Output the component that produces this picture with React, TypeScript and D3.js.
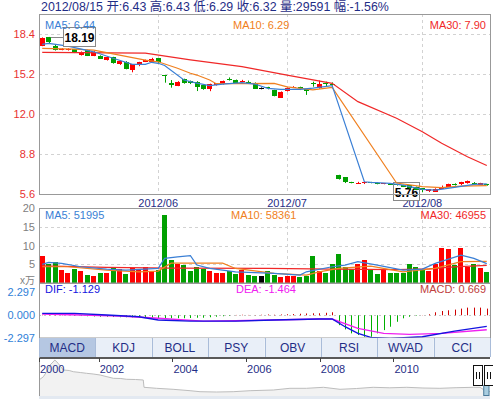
import * as d3 from "d3";

const FONT = "'Liberation Sans', Arial, 'Noto Sans CJK SC', sans-serif";

// daily K line, May - 2012/08/15
const candleOpen = [
  17.5, 18.15, 17.5, 17.2, 17.2, 17.2, 16.74, 17.14, 16.69, 16.69,
  16.34, 16.58, 16.0, 16.21, 15.54, 15.89, 16.21, 16.16, 16.48, 15.12,
  14.53, 14.29, 14.8, 14.66, 14.61, 14.34, 14.0, 14.34, 14.4, 14.8,
  14.74, 14.61, 14.6, 14.53, 14.08, 14.15, 13.94, 13.36, 13.86, 14.14,
  14.2, 14.0, 14.5, 14.08, 14.5, 14.45, 7.14, 6.96, 6.55, 6.52,
  6.5, 6.55, 6.53, 6.45, 6.45, 6.42, 6.34, 6.32, 6.2, 6.08,
  5.81, 5.85, 6.1, 6.22, 6.42, 6.36, 6.48, 6.52, 6.38, 6.43,
];
const candleHigh = [
  18.15, 18.19, 17.55, 17.3, 17.28, 17.22, 17.03, 17.16, 17.05, 16.72,
  16.62, 16.6, 16.28, 16.25, 16.02, 16.2, 16.38, 16.52, 16.5, 15.14,
  14.74, 14.65, 14.85, 14.7, 14.65, 14.36, 14.45, 14.5, 14.7, 14.95,
  14.78, 14.76, 14.7, 14.55, 14.15, 14.2, 13.96, 13.83, 14.15, 14.25,
  14.21, 14.02, 14.61, 14.7, 14.61, 14.55, 7.16, 6.98, 6.6, 6.6,
  6.61, 6.6, 6.55, 6.5, 6.47, 6.44, 6.36, 6.34, 6.22, 6.1,
  6.02, 6.08, 6.3, 6.45, 6.48, 6.6, 6.7, 6.58, 6.52, 6.43,
];
const candleLow = [
  17.45, 17.7, 17.1, 17.12, 17.1, 16.9, 16.7, 16.66, 16.65, 16.45,
  16.3, 16.05, 15.95, 15.6, 15.36, 15.85, 16.18, 16.12, 16.12, 14.53,
  14.13, 14.25, 14.45, 14.42, 13.86, 13.96, 13.85, 14.3, 14.38, 14.7,
  14.45, 14.58, 14.42, 14.05, 14.0, 14.0, 13.44, 13.34, 13.82, 14.1,
  13.94, 13.55, 14.21, 14.05, 14.21, 14.3, 6.78, 6.5, 6.48, 6.48,
  6.42, 6.48, 6.4, 6.4, 6.36, 6.3, 6.18, 6.05, 5.95, 5.76,
  5.78, 5.82, 6.05, 6.2, 6.3, 6.33, 6.45, 6.45, 6.35, 6.29,
];
const candleClose = [
  18.12, 17.76, 17.15, 17.23, 17.22, 16.93, 17.01, 16.69, 17.01, 16.48,
  16.58, 16.08, 16.26, 15.62, 16.0, 16.16, 16.34, 16.42, 16.16, 15.08,
  14.34, 14.61, 14.48, 14.48, 14.21, 14.0, 14.4, 14.48, 14.66, 14.74,
  14.48, 14.68, 14.55, 14.08, 14.08, 14.1, 13.46, 13.81, 14.13, 14.18,
  14.15, 13.81, 14.45, 14.42, 14.45, 14.42, 6.8, 6.53, 6.53, 6.54,
  6.58, 6.52, 6.42, 6.48, 6.4, 6.32, 6.2, 6.08, 6.0, 5.89,
  6.0, 6.05, 6.22, 6.42, 6.36, 6.55, 6.68, 6.5, 6.5, 6.32,
];
// volume, x万
const volumeWan = [
  7.3, 5.0, 5.5, 3.5, 2.7, 3.7, 3.3, 2.1, 1.9, 2.6,
  2.6, 4.4, 3.8, 2.4, 3.9, 3.4, 4.3, 3.2, 3.4, 18.1,
  6.1, 5.0, 4.8, 3.2, 4.3, 3.7, 3.2, 2.8, 2.8, 3.2,
  2.5, 3.4, 2.1, 2.0, 2.0, 3.2, 2.1, 1.7, 2.0, 2.0,
  1.7, 2.0, 7.3, 3.2, 2.6, 5.0, 7.7, 4.4, 3.7, 5.2,
  6.1, 3.7, 2.4, 3.5, 2.8, 2.8, 2.8, 5.0, 4.4, 3.4,
  3.2, 5.0, 9.4, 9.1, 4.8, 9.4, 4.4, 5.0, 3.9, 2.96,
];
const macdHist = [
  0.05, 0.05, 0.04, 0.03, 0.01,
  -0.05, -0.08, -0.1, -0.12, -0.15, -0.15, -0.18, -0.2, -0.2, -0.22,
  -0.25, -0.25, -0.25, -0.28, -0.3, -0.3, -0.3, -0.3, -0.28, -0.25,
  -0.25, -0.2, -0.15, -0.1, -0.05,
  0.03, 0.05, 0.03, 0.02, 0.05, 0.08, 0.05, 0.08, 0.1, 0.12,
  0.15, 0.18, 0.2, 0.2, 0.25, 0.3,
  -1.0, -1.43, -1.83, -2.0, -2.17, -2.17, -1.83, -1.5, -1.16, -0.66,
  -0.31, -0.15, -0.05, 0.02, 0.1,
  0.3, 0.43, 0.5, 0.57, 0.67, 0.77, 0.77, 0.77, 0.67,
];

// moving averages as [day index, value]
const priceMa5: [number, number][] = [
  [0, 17.6], [1, 17.68], [4, 17.46], [8, 17.0], [11, 16.48], [14, 16.0], [16, 16.0],
  [17, 16.16], [18, 16.08], [19, 15.9], [22, 14.74], [24, 14.5], [26, 14.3], [28, 14.42],
  [31, 14.53], [33, 14.42], [35, 14.08], [37, 14.0], [40, 14.0], [42, 14.1], [45, 14.3],
  [50, 6.6], [51, 6.56], [54, 6.48], [56, 6.34], [59, 6.0], [61, 5.94], [64, 6.16],
  [67, 6.4], [69, 6.44],
];
const priceMa10: [number, number][] = [
  [0, 17.28], [5, 17.22], [8, 17.14], [12, 16.74], [16, 16.34], [18, 16.2], [21, 15.68],
  [23, 15.28], [24, 15.14], [26, 14.74], [27, 14.45], [30, 14.45], [36, 14.48],
  [38, 14.2], [42, 13.95], [45, 14.15], [55, 6.5], [59, 6.21], [62, 6.13], [65, 6.26],
  [69, 6.29],
];
const priceMa30: [number, number][] = [
  [0, 16.95], [16, 16.9], [23, 16.35], [31, 15.81], [38, 15.14], [45, 14.48],
  [49, 13.01], [55, 11.68], [59, 10.61], [62, 9.68], [66, 8.61], [69, 7.9],
];
const volMa5: [number, number][] = [
  [0, 5.0], [1, 5.5], [3, 5.25], [6, 4.35], [10, 3.73], [13, 3.47], [16, 3.73], [18, 3.9],
  [19, 6.6], [21, 7.0], [23, 7.3], [24, 4.8], [26, 3.9], [30, 3.0], [36, 2.6], [40, 2.13],
  [41, 3.0], [45, 4.35], [47, 4.8], [49, 5.7], [52, 4.8], [56, 3.47], [59, 3.73],
  [61, 5.25], [65, 7.47], [67, 6.6], [69, 5.2],
];
const volMa10: [number, number][] = [
  [0, 4.35], [4, 4.35], [10, 3.47], [15, 3.0], [18, 3.2], [20, 5.3], [28, 5.3], [30, 3.9],
  [36, 2.6], [41, 2.13], [43, 3.0], [46, 3.9], [51, 4.5], [56, 3.0], [61, 3.9], [65, 5.7],
  [69, 5.8],
];
const volMa30: [number, number][] = [
  [0, 4.6], [10, 4.2], [20, 4.0], [35, 3.9], [45, 3.7], [55, 3.6], [60, 3.8], [64, 4.3],
  [69, 4.7],
];
const macdDif: [number, number][] = [
  [0, 0.19], [5, 0.19], [10, 0.02], [15, -0.15], [18, -0.48], [23, -0.59], [30, -0.59],
  [36, -0.48], [43, -0.38], [45, -0.38], [47, -1.16], [49, -1.83], [51, -2.23],
  [54, -2.33], [59, -2.17], [64, -1.6], [69, -1.129],
];
const macdDea: [number, number][] = [
  [0, 0.12], [12, -0.08], [18, -0.31], [25, -0.59], [30, -0.56], [43, -0.38], [45, -0.38],
  [49, -1.32], [53, -1.83], [57, -1.93], [62, -1.83], [69, -1.464],
];

const headerText = "2012/08/15 开:6.43 高:6.43 低:6.29 收:6.32 量:29591 幅:-1.56%";
const priceLegend = ["MA5: 6.44", "MA10: 6.29", "MA30: 7.90"];
const volumeLegend = ["MA5: 51995", "MA10: 58361", "MA30: 46955"];
const macdLegend = ["DIF: -1.129", "DEA: -1.464", "MACD: 0.669"];
const monthLabels = ["2012/06", "2012/07", "2012/08"];
const monthStartIndex = [18, 38, 59];
const priceTicks = [18.4, 15.2, 12.0, 8.8, 5.6];
const volumeTicks = [20, 15, 10, 5];
const macdTicks = [2.297, 0, -2.297];
const tabNames = ["MACD", "KDJ", "BOLL", "PSY", "OBV", "RSI", "WVAD", "CCI"];
const yearTicks = [2000, 2002, 2004, 2006, 2008, 2010];
const overviewHistory: [number, number][] = [
  [2000.38, 17], [2000.5, 20.3], [2000.6, 26], [2000.68, 32], [2000.76, 35], [2000.81, 37],
  [2000.9, 33.7], [2001.04, 27], [2001.2, 26.5], [2001.31, 25.3], [2001.5, 24.5],
  [2001.67, 23.7], [2001.85, 23], [2002.04, 22], [2002.2, 20.5], [2002.4, 18.7],
  [2002.6, 18.5], [2002.76, 17.7], [2003.0, 17.5], [2003.21, 17], [2003.23, 9.7],
  [2003.57, 8.7], [2004.02, 7.7], [2004.48, 6.3], [2004.75, 5.3], [2005.2, 5.0],
  [2005.65, 5.3], [2006.11, 6.3], [2006.74, 7], [2007.19, 8.7], [2007.64, 8.7],
  [2008.1, 9.7], [2008.55, 7.7], [2009.0, 8.5], [2009.45, 9.7], [2009.9, 9.2],
  [2010.36, 9.7], [2010.8, 9.0], [2011.26, 8.7], [2011.7, 9.3], [2012.17, 9.7],
  [2012.35, 9.7], [2012.53, 5.3], [2012.62, 5.5],
];

const RED = "#ff0000";
const GREEN = "#00a000";
const MA5C = "#3a7fd5";
const MA10C = "#f08020";
const MA30C = "#f02828";
const GRID = "#d2d2d2";
const FRAME = "#999999";
const NAVY = "#1f2d86";

export default function App() {
  const left = 39, right = 490;
  const idx = d3.range(candleOpen.length);
  const x = d3.scaleBand<number>().domain(idx).range([left, right]);
  const cx = (i: number) => x(i)! + x.bandwidth() / 2;
  const bodyW = x.bandwidth() * 0.72;
  const volW = x.bandwidth() * 0.78;

  const y = d3.scaleLinear().domain([5.6, 18.4]).range([194.3, 34.3]);
  const yVol = d3.scaleLinear().domain([0, 20]).range([283, 208.3]);
  const yMacd = d3.scaleLinear().domain([-2.297, 2.297]).range([338, 292.5]);
  const xOver = d3.scaleLinear().domain([2000.38, 2012.62]).range([left, right]).clamp(true);
  const yOver = d3.scaleLinear().domain([0, 40]).range([397, 357]);
  const xTab = d3.scaleBand<string>().domain(tabNames).range([left, right]);

  const colorOf = (i: number) =>
    candleClose[i] > candleOpen[i] ? RED : candleClose[i] < candleOpen[i] ? GREEN : "#000000";

  const priceLine = d3.line<[number, number]>().x(d => cx(d[0])).y(d => y(d[1]));
  const volLine = d3.line<[number, number]>().x(d => cx(d[0])).y(d => yVol(d[1]));
  const macdLine = d3.line<[number, number]>().x(d => cx(d[0])).y(d => yMacd(d[1]));
  const overArea = d3.area<[number, number]>().x(d => xOver(d[0])).y0(yOver(0)).y1(d => yOver(d[1]));
  const overLine = d3.line<[number, number]>().x(d => xOver(d[0])).y(d => yOver(d[1]));

  const hiIdx = d3.maxIndex(candleHigh);
  const loIdx = d3.minIndex(candleLow);

  return (
    <svg width={493} height={399} style={{ position: "absolute", left: 0, top: 0, background: "#fff" }}
      fontFamily={FONT}>
      <text x={41} y={11} fontSize={12.4} fill={NAVY}>{headerText}</text>

      {/* price panel */}
      {priceTicks.slice(0, 4).map(t => (
        <line key={t} x1={left} x2={right} y1={Math.round(y(t)) + 0.5} y2={Math.round(y(t)) + 0.5}
          stroke={GRID} strokeDasharray="3,3" />
      ))}
      {monthStartIndex.map(i => (
        <g key={i}>
          <line x1={Math.round(cx(i)) + 0.5} x2={Math.round(cx(i)) + 0.5} y1={14} y2={194}
            stroke={GRID} strokeDasharray="3,3" />
          <line x1={Math.round(cx(i)) + 0.5} x2={Math.round(cx(i)) + 0.5} y1={208} y2={283}
            stroke={GRID} strokeDasharray="3,3" />
        </g>
      ))}
      {priceTicks.map(t => (
        <text key={t} x={35} y={y(t)} dy="0.35em" textAnchor="end" fontSize={11} fill="#e8312f">
          {t.toFixed(1)}
        </text>
      ))}
      {monthLabels.map((m, k) => (
        <text key={m} x={cx(monthStartIndex[k])} y={207} textAnchor="middle" fontSize={11} fill={NAVY}>{m}</text>
      ))}

      {/* lowest price marker */}
      <rect x={Math.round(cx(loIdx)) - 28.5} y={Math.round(y(candleLow[loIdx])) - 9.5} width={26} height={18}
        fill="#fff" stroke="#888" />
      <text x={Math.round(cx(loIdx)) - 15.5} y={Math.round(y(candleLow[loIdx])) + 4.5} textAnchor="middle"
        fontSize={12} fontWeight="bold" fill="#000">{candleLow[loIdx].toFixed(2)}</text>

      {idx.map(i => {
        const c = colorOf(i);
        const top = y(Math.max(candleOpen[i], candleClose[i]));
        const bot = y(Math.min(candleOpen[i], candleClose[i]));
        const xc = Math.round(cx(i)) + 0.5;
        return (
          <g key={i}>
            <line x1={xc} x2={xc} y1={y(candleHigh[i])} y2={y(candleLow[i])} stroke={c} />
            <rect x={Math.round(cx(i) - bodyW / 2)} y={Math.round(top)} width={Math.round(bodyW)}
              height={Math.max(1, Math.round(bot - top))} fill={c} shapeRendering="crispEdges" />
          </g>
        );
      })}
      <path d={priceLine(priceMa30)!} fill="none" stroke={MA30C} strokeWidth={1.2} />
      <path d={priceLine(priceMa10)!} fill="none" stroke={MA10C} strokeWidth={1.2} />
      <path d={priceLine(priceMa5)!} fill="none" stroke={MA5C} strokeWidth={1.2} />

      {/* highest price marker */}
      <line x1={cx(hiIdx) + 2} x2={cx(hiIdx) + 14.5} y1={Math.round(y(candleHigh[hiIdx])) + 0.5}
        y2={Math.round(y(candleHigh[hiIdx])) + 0.5} stroke="#888" />
      <rect x={Math.round(cx(hiIdx)) + 14.5} y={Math.round(y(candleHigh[hiIdx])) - 9.5} width={32} height={19}
        fill="#fff" stroke="#888" />
      <text x={Math.round(cx(hiIdx)) + 30.5} y={Math.round(y(candleHigh[hiIdx])) + 4.5} textAnchor="middle"
        fontSize={12} fontWeight="bold" fill="#000">{candleHigh[hiIdx].toFixed(2)}</text>

      <text x={45} y={29} fontSize={11} fill={MA5C}>{priceLegend[0]}</text>
      <text x={233} y={29} fontSize={11} fill={MA10C}>{priceLegend[1]}</text>
      <text x={486} y={29} fontSize={11} fill={MA30C} textAnchor="end">{priceLegend[2]}</text>
      <rect x={left + 0.5} y={14.5} width={right - left} height={180} fill="none" stroke={FRAME} />

      {/* volume panel */}
      {volumeTicks.slice(1).map(t => (
        <line key={t} x1={left} x2={right} y1={Math.round(yVol(t)) + 0.5} y2={Math.round(yVol(t)) + 0.5}
          stroke={GRID} strokeDasharray="3,3" />
      ))}
      {volumeTicks.map(t => (
        <text key={t} x={35} y={yVol(t)} dy="0.35em" textAnchor="end" fontSize={11} fill="#808080">{t}</text>
      ))}
      <text x={35} y={284} textAnchor="end" fontSize={10} fill="#808080">x万</text>
      {idx.map(i => (
        <rect key={i} x={Math.round(cx(i) - volW / 2)} y={Math.round(yVol(volumeWan[i]))}
          width={Math.round(volW)} height={Math.round(yVol(0) - yVol(volumeWan[i]))}
          fill={colorOf(i)} shapeRendering="crispEdges" />
      ))}
      <path d={volLine(volMa30)!} fill="none" stroke={MA30C} strokeWidth={1.2} />
      <path d={volLine(volMa10)!} fill="none" stroke={MA10C} strokeWidth={1.2} />
      <path d={volLine(volMa5)!} fill="none" stroke={MA5C} strokeWidth={1.2} />
      <text x={45} y={219} fontSize={11} fill={MA5C}>{volumeLegend[0]}</text>
      <text x={231} y={219} fontSize={11} fill={MA10C}>{volumeLegend[1]}</text>
      <text x={486} y={219} fontSize={11} fill={MA30C} textAnchor="end">{volumeLegend[2]}</text>
      <rect x={left + 0.5} y={208.5} width={right - left} height={74.5} fill="none" stroke={FRAME} />

      {/* MACD panel */}
      <line x1={left} x2={right} y1={Math.round(yMacd(0)) + 0.5} y2={Math.round(yMacd(0)) + 0.5}
        stroke="#c8c8c8" strokeDasharray="2,3" />
      {macdTicks.map(t => (
        <text key={t} x={35} y={yMacd(t)} dy="0.35em" textAnchor="end" fontSize={11} fill="#2f7fd8">
          {t.toFixed(3)}
        </text>
      ))}
      {idx.map(i => (
        <line key={i} x1={Math.round(cx(i)) + 0.5} x2={Math.round(cx(i)) + 0.5}
          y1={yMacd(0)} y2={yMacd(macdHist[i])} stroke={macdHist[i] >= 0 ? "#d00000" : "#00b000"} />
      ))}
      <path d={macdLine(macdDea)!} fill="none" stroke="#f020f0" strokeWidth={1.4} />
      <path d={macdLine(macdDif)!} fill="none" stroke="#1414e0" strokeWidth={1.4} />
      <text x={45} y={293} fontSize={11} fill="#1414e0">{macdLegend[0]}</text>
      <text x={236} y={293} fontSize={11} fill="#f020f0">{macdLegend[1]}</text>
      <text x={486} y={293} fontSize={11} fill="#c04040" textAnchor="end">{macdLegend[2]}</text>
      <rect x={left + 0.5} y={283.5} width={right - left} height={54.5} fill="none" stroke={FRAME} />

      {/* indicator tabs */}
      {tabNames.map((t, k) => (
        <g key={t}>
          <rect x={xTab(t)!} y={338} width={xTab.bandwidth()} height={19}
            fill={k === 0 ? "#b5c7e2" : "#e9eff8"} />
          <line x1={Math.round(xTab(t)!) + 0.5} x2={Math.round(xTab(t)!) + 0.5} y1={338} y2={357}
            stroke="#a9bcd9" />
          <text x={xTab(t)! + xTab.bandwidth() / 2} y={352} textAnchor="middle" fontSize={12} fill={NAVY}>{t}</text>
        </g>
      ))}
      <line x1={right + 0.5} x2={right + 0.5} y1={338} y2={357} stroke="#a9bcd9" />

      {/* history overview */}
      <path d={overArea(overviewHistory)!} fill="#f2f2f2" />
      <path d={overLine(overviewHistory)!} fill="none" stroke="#bdbdbd" />
      <line x1={left} x2={right} y1={358} y2={358} stroke="#222" strokeWidth={1.6} />
      <line x1={left + 0.5} x2={left + 0.5} y1={357} y2={397} stroke={FRAME} />
      {yearTicks.map(yr => (
        <g key={yr}>
          <line x1={Math.round(xOver(yr)) + 0.5} x2={Math.round(xOver(yr)) + 0.5} y1={358} y2={362} stroke="#444" />
          <text x={xOver(yr) + 1} y={373} fontSize={11} fill={NAVY}>{yr}</text>
        </g>
      ))}
      <rect x={xOver(2012.45)} y={385.5} width={xOver(2012.62) - xOver(2012.45) - 1} height={10}
        fill="#a8cde0" stroke="#4a7a9a" />
      {[2012.29, 2012.6].map(yr => (
        <g key={yr}>
          <rect x={Math.round(xOver(yr) - 5) + 0.5} y={365.5} width={9} height={20} fill="#fff" stroke="#111" />
          <line x1={Math.round(xOver(yr)) - 1.5} x2={Math.round(xOver(yr)) - 1.5} y1={372} y2={379} stroke="#111" />
          <line x1={Math.round(xOver(yr)) + 1.5} x2={Math.round(xOver(yr)) + 1.5} y1={372} y2={379} stroke="#111" />
        </g>
      ))}
      <rect x={left} y={396} width={right - left} height={3} fill="#e3e9f1" />
    </svg>
  );
}
